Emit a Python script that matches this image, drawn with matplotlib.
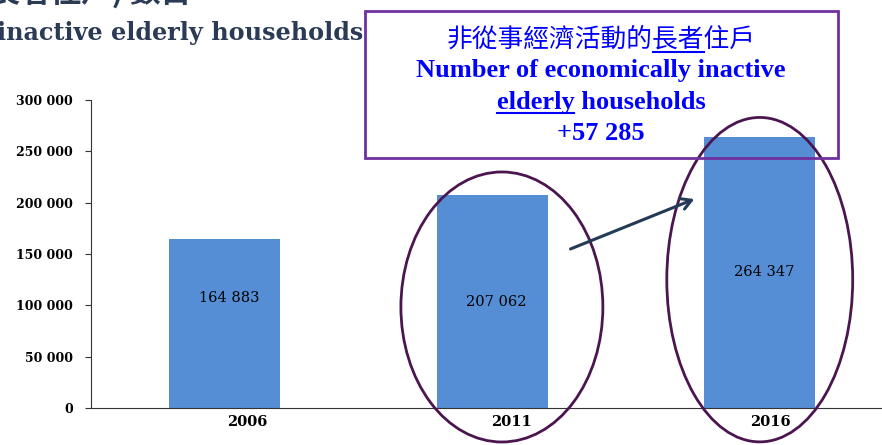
import matplotlib
matplotlib.use("Agg")
import matplotlib.pyplot as plt
from matplotlib.patches import Ellipse, Rectangle
from matplotlib.transforms import ScaledTranslation

years = ["2006", "2011", "2016"]
households = [164883, 207062, 264347]
value_labels = ["164 883", "207 062", "264 347"]
yticks = [0, 50000, 100000, 150000, 200000, 250000, 300000]
ytick_labels = ["0", "50 000", "100 000", "150 000", "200 000", "250 000", "300 000"]
increase_label = "+57 285"

SERIF = ["Liberation Serif", "DejaVu Serif"]
WIDE = ["DejaVu Serif"]
CJK = ["Noto Sans CJK TC", "DejaVu Sans"]

fig = plt.figure(figsize=(8.82, 4.45), dpi=100)
ax = fig.add_axes([91/882, 37/445, 802.5/882, 308/445])

x = list(range(len(years)))
ax.bar(x, households, width=0.415, color="#558ED5", zorder=2)
ax.set_xlim(-0.5, 2.5)
ax.set_ylim(0, 300000)

ax.spines["top"].set_visible(False)
ax.spines["right"].set_visible(False)
ax.spines["left"].set_color("#333333")
ax.spines["bottom"].set_color("#333333")
ax.set_yticks(yticks)
ax.set_yticklabels(ytick_labels, fontfamily=WIDE, fontweight="bold", fontsize=9)
ax.tick_params(axis="y", length=4, width=0.8, pad=9, colors="#333333", labelcolor="black")
ax.set_xticks(x)
ax.set_xticklabels(years, fontfamily=WIDE, fontweight="bold", fontsize=10.5)
ax.tick_params(axis="x", length=0, pad=5)
for i, lab in enumerate(ax.get_xticklabels()):
    dx = [23, 19, 11][i] / 100
    lab.set_transform(lab.get_transform() + ScaledTranslation(dx, 0, fig.dpi_scale_trans))

label_frac = [0.65, 0.5, 0.5]
for xi, v, lab, f in zip(x, households, value_labels, label_frac):
    ax.text(xi + 0.015, v * f, lab, ha="center", va="center", fontsize=10.5,
            fontfamily=WIDE, color="black", zorder=3)

# ellipses highlighting 2011 and 2016
ax.add_patch(Ellipse((1.036, 98400), 0.755, 263000, fill=False, edgecolor="#4B1650",
                     linewidth=2, clip_on=False, zorder=6))
ax.add_patch(Ellipse((2.0, 125000), 0.695, 316000, fill=False, edgecolor="#4B1650",
                     linewidth=2, clip_on=False, zorder=6))

# arrow
ax.annotate("", xy=(1.765, 204500), xytext=(1.283, 153900),
            arrowprops=dict(arrowstyle="->,head_length=0.7,head_width=0.4",
                            color="#243B55", lw=2.2), zorder=7, annotation_clip=False)

# callout box
box = Rectangle((365/882, 1 - 158/445), (838-365)/882, (158-11)/445, transform=fig.transFigure,
                fill=False, edgecolor="#7030A0", linewidth=2, zorder=5)
fig.add_artist(box)

cx = 601/882
blue = "#0000FF"
t1 = fig.text(cx, 1 - 40/445, "非從事經濟活動的長者住戶", ha="center", va="center",
              fontsize=18.5, fontfamily=CJK, color=blue)
t2 = fig.text(cx, 1 - 71/445, "Number of economically inactive", ha="center", va="center",
              fontsize=19, fontfamily=SERIF, fontweight="bold", color=blue)
t3 = fig.text(cx, 1 - 102/445, "elderly households", ha="center", va="center",
              fontsize=19, fontfamily=SERIF, fontweight="bold", color=blue)
t4 = fig.text(cx, 1 - 134/445, increase_label, ha="center", va="center",
              fontsize=19, fontfamily=SERIF, fontweight="bold", color=blue)

# page title fragments
fig.text(-0.003, 1 - 40/445, "inactive elderly households", ha="left", va="baseline",
         fontsize=17.2, fontfamily=WIDE, fontweight="bold", color="#2B3A55")
fig.text(-0.025, 1 - 2/445, "(長者住戶) 數目", ha="left", va="baseline",
         fontsize=22, fontfamily=CJK, fontweight="bold", color="#2B3A55")

# underlines for 長者 and elderly
fig.canvas.draw()
r = fig.canvas.get_renderer()
inv = fig.transFigure.inverted()

def underline(txt, full, sub_start, sub_end, dy):
    bb = txt.get_window_extent(r)
    tmp = fig.text(0, 0, full[:sub_start] if sub_start else "", fontsize=txt.get_fontsize(),
                   fontfamily=txt.get_fontfamily(), fontweight=txt.get_fontweight())
    w0 = tmp.get_window_extent(r).width if sub_start else 0
    tmp.set_text(full[:sub_end])
    w1 = tmp.get_window_extent(r).width
    tmp.remove()
    x0 = bb.x0 + w0
    x1 = bb.x0 + w1
    y = bb.y0 + dy
    (fx0, fy), (fx1, _) = inv.transform([(x0, y), (x1, y)])
    fig.add_artist(plt.Line2D([fx0, fx1], [fy, fy], transform=fig.transFigure,
                              color=blue, lw=1.5))

underline(t1, "非從事經濟活動的長者住戶", 8, 10, 1)
underline(t3, "elderly households", 0, 7, 0)

fig.savefig("out.png", dpi=100)
